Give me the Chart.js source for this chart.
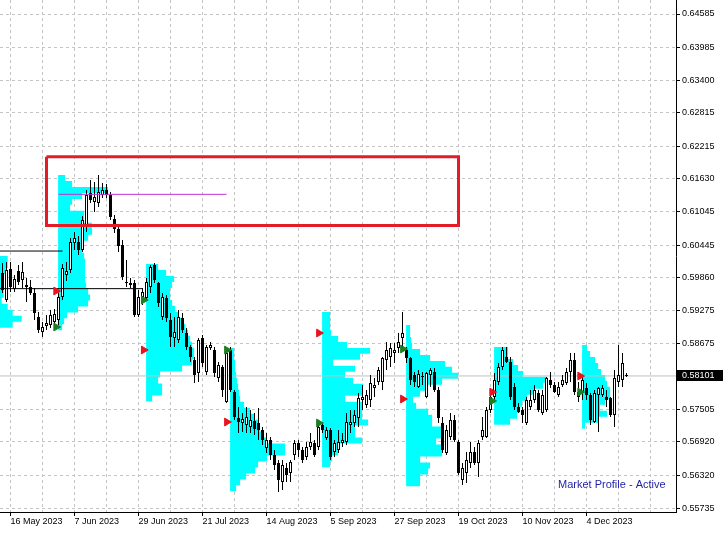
<!DOCTYPE html>
<html>
<head>
<meta charset="utf-8">
<script src="https://cdn.jsdelivr.net/npm/chart.js@4.4.1/dist/chart.umd.min.js"></script>
<style>
html, body { margin: 0; padding: 0; background: #fff; }
canvas { display: block; }
</style>
</head>
<body>
<canvas id="chart" width="723" height="535"></canvas>
<script>
// daily candles, bar 0 = 11 May 2023
var opens = [0.59945,0.59461,0.60017,0.59659,0.59981,0.59820,0.59730,0.59695,0.59587,0.59157,
0.58888,0.58996,0.59013,0.59067,0.59103,0.59515,0.59909,0.59999,0.60482,0.60500,
0.60357,0.60770,0.61378,0.61217,0.61199,0.61342,0.61432,0.61342,0.60913,0.60733,
0.60447,0.59784,0.59766,0.59766,0.59192,0.59515,0.59497,0.59695,0.60088,0.59766,
0.59157,0.59497,0.59103,0.58781,0.58745,0.59139,0.58870,0.58620,0.58387,0.58154,
0.58781,0.58172,0.58602,0.58566,0.58064,0.58262,0.57634,0.58566,0.57813,0.57348,
0.57258,0.57222,0.57187,0.57294,0.57258,0.57133,0.56810,0.56953,0.56684,0.56541,
0.56201,0.56452,0.56362,0.56684,0.56899,0.56774,0.56648,0.56828,0.56899,0.56828,
0.57222,0.56989,0.57133,0.56738,0.56774,0.56899,0.56917,0.57222,0.57258,0.57348,
0.57670,0.57580,0.57670,0.57885,0.57992,0.57992,0.58387,0.58441,0.58512,0.58602,
0.58781,0.58566,0.58423,0.58118,0.57903,0.58100,0.57724,0.58118,0.58172,0.57849,
0.57258,0.56720,0.57007,0.57312,0.56917,0.56237,0.56362,0.56541,0.56738,0.56541,
0.57007,0.57007,0.57491,0.57724,0.57992,0.58262,0.58441,0.58351,0.57903,0.57545,
0.57491,0.57258,0.57545,0.57670,0.57795,0.57437,0.57491,0.58028,0.57938,0.57759,
0.57938,0.57974,0.58172,0.58387,0.57724,0.57795,0.57885,0.57759,0.57276,0.57759,
0.57759,0.57724,0.57706,0.57402,0.57992,0.58028,0.58110];
var highs = [0.60124,0.60142,0.60142,0.59909,0.60088,0.60142,0.59856,0.59820,0.59677,0.59246,
0.59067,0.59192,0.59282,0.59300,0.59605,0.60106,0.60142,0.60572,0.60679,0.60608,
0.60967,0.61432,0.61611,0.61575,0.61701,0.61557,0.61539,0.61396,0.60984,0.60787,
0.60536,0.60178,0.59856,0.59820,0.59641,0.59677,0.59856,0.60088,0.60124,0.59784,
0.59587,0.59551,0.59228,0.59157,0.59282,0.59228,0.58960,0.58655,0.58441,0.58781,
0.58834,0.58655,0.58709,0.58620,0.58351,0.58297,0.58566,0.58620,0.57849,0.57545,
0.57437,0.57545,0.57491,0.57437,0.57527,0.57187,0.57079,0.57007,0.56774,0.56595,
0.56595,0.56541,0.56595,0.56953,0.56953,0.56828,0.56917,0.57079,0.56953,0.57258,
0.57276,0.57187,0.57169,0.56953,0.57133,0.57079,0.57437,0.57491,0.57491,0.57795,
0.57938,0.57849,0.58118,0.58064,0.58262,0.58441,0.58709,0.58691,0.58691,0.58870,
0.59246,0.58620,0.58441,0.58172,0.58207,0.58172,0.58172,0.58243,0.58243,0.57903,
0.57366,0.57222,0.57437,0.57402,0.56953,0.56541,0.56738,0.56917,0.56828,0.56953,
0.57366,0.57545,0.57795,0.58154,0.58333,0.58620,0.58620,0.58441,0.57974,0.57616,
0.57545,0.57724,0.57849,0.57938,0.57849,0.57849,0.58082,0.58172,0.57992,0.57992,
0.58118,0.58243,0.58512,0.58512,0.57992,0.58082,0.57974,0.57795,0.57849,0.57903,
0.57938,0.57849,0.57724,0.58207,0.58655,0.58512,0.58154];
var lows = [0.59587,0.59425,0.59605,0.59605,0.59730,0.59677,0.59425,0.59551,0.59103,0.58870,
0.58798,0.58924,0.58960,0.58978,0.59013,0.59461,0.59802,0.59945,0.60357,0.60267,
0.60321,0.60679,0.61199,0.61038,0.61128,0.61289,0.61289,0.60895,0.60661,0.60321,
0.59820,0.59695,0.59677,0.59157,0.59157,0.59372,0.59461,0.59587,0.59766,0.59336,
0.59103,0.59067,0.58620,0.58620,0.58691,0.58870,0.58566,0.58351,0.57974,0.57992,
0.58262,0.58118,0.58566,0.58082,0.57992,0.57724,0.57616,0.57813,0.57312,0.57079,
0.57097,0.57079,0.57079,0.57043,0.56953,0.56863,0.56720,0.56595,0.56416,0.56022,
0.56058,0.56201,0.56201,0.56595,0.56648,0.56541,0.56595,0.56774,0.56648,0.56774,
0.57079,0.56953,0.56595,0.56648,0.56720,0.56828,0.56863,0.57079,0.57187,0.57187,
0.57491,0.57527,0.57545,0.57724,0.57938,0.57849,0.58207,0.58262,0.58333,0.58512,
0.58566,0.58333,0.57938,0.57903,0.57885,0.57938,0.57706,0.57903,0.57813,0.57258,
0.56720,0.56684,0.56953,0.56917,0.56326,0.56147,0.56183,0.56452,0.56505,0.56290,
0.56953,0.56989,0.57437,0.57670,0.57938,0.58207,0.58333,0.57670,0.57491,0.57437,
0.57258,0.57222,0.57491,0.57616,0.57455,0.57402,0.57455,0.57885,0.57795,0.57724,
0.57903,0.57938,0.57992,0.57759,0.57634,0.57670,0.57670,0.57222,0.57258,0.57097,
0.57724,0.57545,0.57366,0.57187,0.57903,0.57903,0.58082];
var closes = [0.59641,0.59999,0.59695,0.59838,0.59784,0.59963,0.59695,0.59587,0.59228,0.58924,
0.58978,0.59049,0.59192,0.59210,0.59515,0.60035,0.59981,0.60500,0.60572,0.60357,
0.60895,0.61342,0.61253,0.61306,0.61396,0.61432,0.61342,0.60949,0.60733,0.60429,
0.59874,0.59766,0.59730,0.59192,0.59515,0.59605,0.59784,0.60053,0.59820,0.59407,
0.59515,0.59139,0.58798,0.58888,0.59157,0.58924,0.58620,0.58441,0.58118,0.58745,
0.58333,0.58620,0.58655,0.58154,0.58297,0.57849,0.58512,0.57849,0.57366,0.57276,
0.57330,0.57366,0.57312,0.57151,0.57133,0.56953,0.56953,0.56684,0.56505,0.56237,
0.56505,0.56326,0.56559,0.56899,0.56774,0.56595,0.56828,0.56917,0.56684,0.57187,
0.57133,0.57133,0.56648,0.56899,0.56917,0.56953,0.57276,0.57276,0.57402,0.57706,
0.57724,0.57759,0.57974,0.57938,0.58207,0.58423,0.58566,0.58602,0.58566,0.58709,
0.58870,0.58423,0.58028,0.57992,0.58136,0.58082,0.58154,0.58207,0.57849,0.57348,
0.56774,0.57133,0.57312,0.56953,0.56362,0.56452,0.56595,0.56738,0.56541,0.56899,
0.57133,0.57491,0.57724,0.58028,0.58262,0.58566,0.58351,0.57724,0.57545,0.57455,
0.57402,0.57670,0.57670,0.57849,0.57491,0.57759,0.58064,0.57938,0.57813,0.57903,
0.58028,0.58172,0.58387,0.57813,0.57813,0.58028,0.57759,0.57312,0.57795,0.57885,
0.57885,0.57670,0.57402,0.58064,0.58118,0.58333,0.58101];

var dateTickBars = [2, 18, 34, 50, 66, 82, 98, 114, 130, 146];
var dateTickLabels = ['16 May 2023', '7 Jun 2023', '29 Jun 2023', '21 Jul 2023', '14 Aug 2023',
    '5 Sep 2023', '27 Sep 2023', '19 Oct 2023', '10 Nov 2023', '4 Dec 2023'];
var priceTicks = [0.64585, 0.63985, 0.63400, 0.62815, 0.62215, 0.61630, 0.61045, 0.60445,
    0.59860, 0.59275, 0.58675, 0.57505, 0.56920, 0.56320, 0.55735];
var lastPrice = 0.58101;

// market profile histograms: start bar, top price, row widths (bars)
var rowStep = 0.00107;
var profileStarts = [-0.7, 13.9, 35.9, 56.9, 79.9, 100.9, 122.9, 144.9];
var profileTops = [0.60250, 0.61701, 0.60106, 0.58602, 0.59246, 0.59013, 0.58620, 0.58655];
var mp0 = [2, 2, 1.5, 1, 1, 1, 1, 0.5, 2, 3.25, 5.5, 3.25];
var mp1 = [1.75, 3.5, 12.5, 6, 3.5, 3, 6.5, 6.5, 8.5, 8.5, 7.5, 6, 6, 6.5, 6.75, 6.75, 6.75, 6.75, 7, 7.5, 8, 7.5, 5, 2.25, 1.5, 1];
var mp2 = [3, 5, 7, 6.5, 6, 6, 6.5, 7.25, 8, 9, 9.75, 10.5, 11, 11.5, 12, 12, 11.5, 9, 3.5, 3, 4, 4, 1.5];
var mp3 = [1, 1, 1.25, 1.25, 1.5, 1.75, 2, 2.25, 2.5, 3.5, 5, 6.25, 7, 7.5, 8.25, 9, 13.75, 13.75, 9.25, 7, 6.25, 4, 2.5, 1.5];
var mp4 = [2, 2, 2, 2.25, 4, 6.25, 12, 9.5, 2.75, 8.25, 5.75, 7.75, 10.25, 10.25, 5.75, 10, 10, 10, 11.5, 8.25, 8.25, 10, 4.5, 4, 2.5, 2];
var mp5 = [1, 1, 1.25, 1.5, 3.5, 6, 9.75, 11.5, 13, 9, 4.75, 3.5, 1.75, 2.5, 5.5, 6.5, 6.5, 9, 9, 7.5, 9, 9, 3.5, 6, 5.5, 3.5, 3.5];
var mp6 = [3.5, 3.5, 4.75, 6, 7.25, 13.25, 12.25, 10.25, 8.25, 7, 6.5, 5.75, 4];
var mp7 = [1.25, 2, 3.25, 4, 4.75, 5.75, 6.25, 7, 7, 5.75, 4.5, 6.25, 4, 0.75];
var profileWidths = [mp0, mp1, mp2, mp3, mp4, mp5, mp6, mp7];

// signal arrows
var arrowBars = [13.4, 35.3, 56.1, 79.1, 100.1, 122.4, 144.4];
var redArrows = [0.59623, 0.58566, 0.57276, 0.58870, 0.57688, 0.57813, 0.58100];
var greenArrows = [0.58978, 0.59461, 0.58566, 0.57258, 0.58584, 0.57652, 0.57813];

// drawn objects
var boxBars = [11, 114];
var boxPrices = [0.62029, 0.60796];
var pocBars = [14, 56];
var pocPrice = 0.61355;
var levelEnds = [15, 35];
var levelPrices = [0.60339, 0.59665];

function profilePoints(k) {
    var s = profileStarts[k], top = profileTops[k], w = profileWidths[k];
    var pts = [{x: s, y: top}];
    for (var i = 0; i < w.length; i++) {
        pts.push({x: s + w[i], y: top - i * rowStep});
        pts.push({x: s + w[i], y: top - (i + 1) * rowStep});
    }
    pts.push({x: s, y: top - w.length * rowStep});
    return pts;
}

var datasets = [];
for (var k = 0; k < profileWidths.length; k++) {
    datasets.push({
        type: 'line', data: profilePoints(k), fill: 'shape', backgroundColor: '#00ffff',
        borderWidth: 0, pointRadius: 0, order: 6
    });
}
datasets.push({
    type: 'line', data: [{x: -2, y: lastPrice}, {x: 170, y: lastPrice}],
    borderColor: '#c0c0c0', borderWidth: 1, pointRadius: 0, fill: false, order: 5
});

var wicks = [], bodies = [], bodyColors = [];
for (var i = 0; i < opens.length; i++) {
    wicks.push({x: i, y: [lows[i], highs[i]]});
    bodies.push({x: i, y: [opens[i], closes[i]]});
    bodyColors.push(closes[i] >= opens[i] ? '#ffffff' : '#000000');
}
datasets.push({
    type: 'bar', data: wicks, backgroundColor: '#000000', barThickness: 1, grouped: false,
    borderWidth: 0, inflateAmount: 0, order: 4
});
datasets.push({
    type: 'bar', data: bodies, backgroundColor: bodyColors, borderColor: '#000000', borderWidth: 1,
    borderSkipped: false, barThickness: 3, grouped: false, inflateAmount: 0, minBarLength: 1, order: 3
});

datasets.push({
    type: 'line', order: 2, borderColor: '#e31c25', borderWidth: 3, pointRadius: 0, fill: false,
    data: [{x: boxBars[0], y: boxPrices[0]}, {x: boxBars[1], y: boxPrices[0]}, {x: boxBars[1], y: boxPrices[1]},
        {x: boxBars[0], y: boxPrices[1]}, {x: boxBars[0], y: boxPrices[0]}]
});
datasets.push({
    type: 'line', order: 2, borderColor: '#c62ed2', borderWidth: 1, pointRadius: 0, fill: false,
    data: [{x: pocBars[0], y: pocPrice}, {x: pocBars[1], y: pocPrice}]
});
for (var j = 0; j < levelPrices.length; j++) {
    datasets.push({
        type: 'line', order: 2, borderColor: '#000000', borderWidth: 1, pointRadius: 0, fill: false,
        data: [{x: -2, y: levelPrices[j]}, {x: levelEnds[j], y: levelPrices[j]}]
    });
}

function arrowData(prices) {
    return prices.map(function (p, n) { return {x: arrowBars[n], y: p}; });
}
datasets.push({
    type: 'line', order: 1, showLine: false, data: arrowData(redArrows), pointStyle: 'triangle',
    pointRotation: 90, pointRadius: 4.5, pointBackgroundColor: '#e8141e', pointBorderColor: '#e8141e', pointBorderWidth: 1
});
datasets.push({
    type: 'line', order: 1, showLine: false, data: arrowData(greenArrows), pointStyle: 'triangle',
    pointRotation: 90, pointRadius: 4.5, pointBackgroundColor: '#1e7e22', pointBorderColor: '#1e7e22', pointBorderWidth: 1
});

var overlay = {
    id: 'overlay',
    afterDraw: function (chart) {
        var ctx = chart.ctx, area = chart.chartArea;
        var y = chart.scales.y.getPixelForValue(lastPrice);
        ctx.save();
        ctx.fillStyle = '#000000';
        ctx.fillRect(area.right + 1, Math.round(y) - 6, chart.width - area.right - 1, 11);
        ctx.fillStyle = '#ffffff';
        ctx.font = '9px "Liberation Sans"';
        ctx.textBaseline = 'middle';
        ctx.fillText(lastPrice.toFixed(5), area.right + 6, y);
        ctx.fillStyle = '#1f1fa6';
        ctx.font = '11px "Liberation Sans"';
        ctx.fillText('Market Profile - Active', area.right - 118, area.bottom - 27);
        ctx.restore();
    }
};

Chart.defaults.font.family = '"Liberation Sans", Arial, sans-serif';
Chart.defaults.font.size = 9;
Chart.defaults.color = '#000000';

new Chart(document.getElementById('chart').getContext('2d'), {
    type: 'line',
    data: {datasets: datasets},
    options: {
        responsive: false,
        animation: false,
        devicePixelRatio: 1,
        events: [],
        layout: {padding: 0, autoPadding: false},
        plugins: {legend: {display: false}, tooltip: {enabled: false}},
        scales: {
            x: {
                type: 'linear', position: 'bottom', min: -0.625, max: 168.375, bounds: 'data', offset: false,
                grid: {
                    color: '#c4c4c4', offset: false, tickLength: 4,
                    tickColor: function (c) {
                        return c.tick && dateTickBars.indexOf(c.tick.value) >= 0 ? '#000000' : 'rgba(0,0,0,0)';
                    }
                },
                border: {display: true, color: '#000000', width: 1, dash: [3, 3]},
                ticks: {
                    autoSkip: false, maxRotation: 0, align: 'start', padding: 0,
                    callback: function (v) {
                        var n = dateTickBars.indexOf(v);
                        return n >= 0 ? dateTickLabels[n] : '';
                    }
                },
                afterBuildTicks: function (scale) {
                    var t = [];
                    for (var v = 2; v <= 162; v += 8) t.push({value: v});
                    scale.ticks = t;
                },
                afterFit: function (scale) {
                    scale.height = 23; scale.paddingLeft = 0; scale.paddingRight = 0;
                }
            },
            y: {
                type: 'linear', position: 'right', min: 0.55664, max: 0.64836, bounds: 'data',
                grid: {color: '#c4c4c4', tickLength: 4, tickColor: '#000000'},
                border: {display: true, color: '#000000', width: 1, dash: [3, 3]},
                ticks: {
                    autoSkip: false, padding: 2,
                    callback: function (v) { return v.toFixed(5); }
                },
                afterBuildTicks: function (scale) {
                    scale.ticks = priceTicks.map(function (p) { return {value: p}; });
                },
                afterFit: function (scale) {
                    scale.width = 47; scale.paddingTop = 0; scale.paddingBottom = 0;
                }
            }
        }
    },
    plugins: [overlay]
});
</script>
</body>
</html>
